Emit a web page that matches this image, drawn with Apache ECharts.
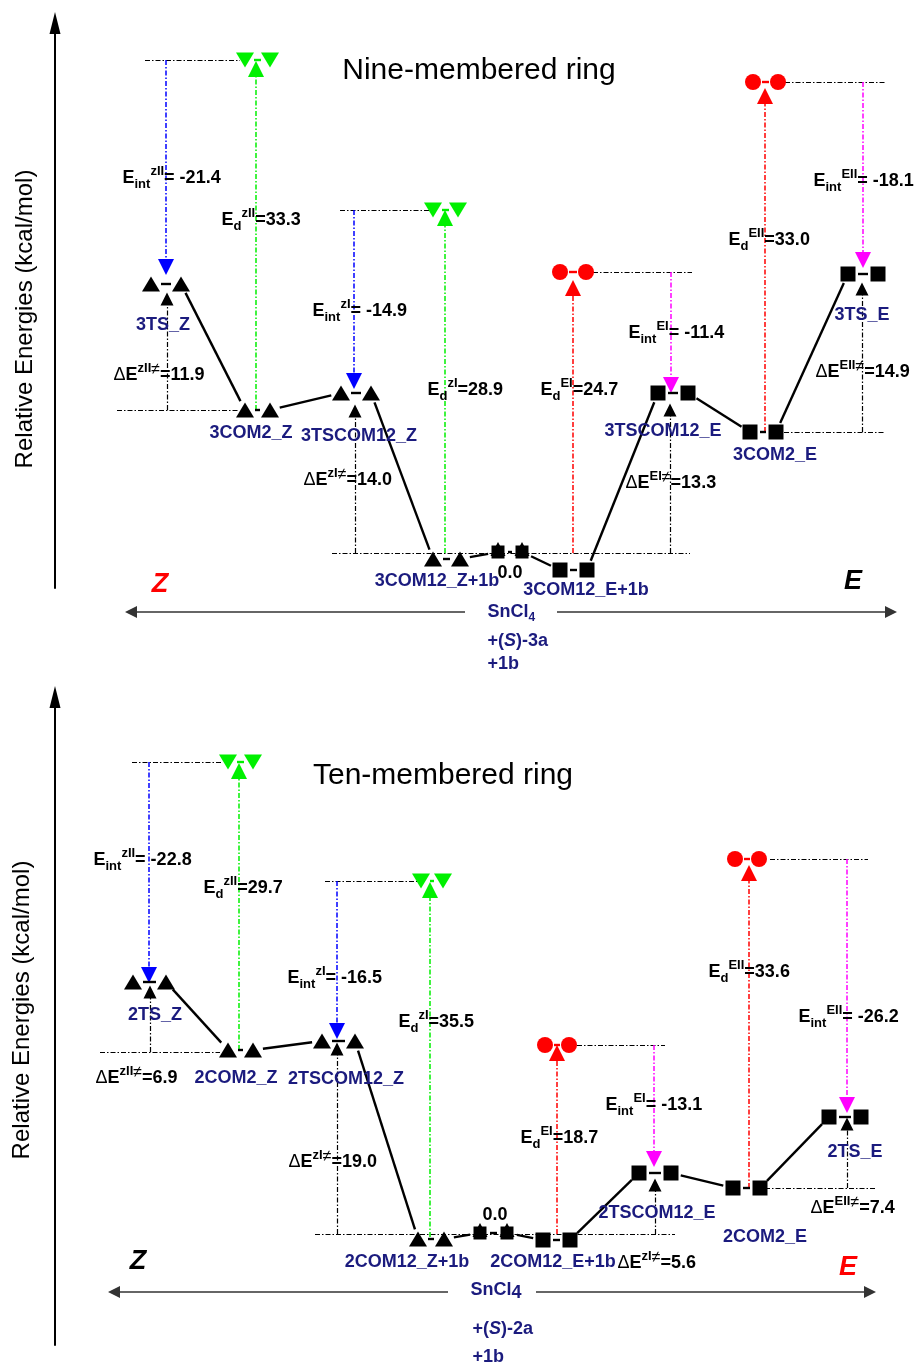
<!DOCTYPE html>
<html><head><meta charset="utf-8">
<script src="https://cdn.jsdelivr.net/npm/echarts@6/dist/echarts.min.js"></script>
<style>html,body{margin:0;padding:0;background:#fff}#c{width:920px;height:1366px}</style>
</head><body><div id="c"></div>
<script>
// ================= DATA: Nine-membered ring (top panel) =================
// schematic diagram units: x = stage position, y = drawn level (0 = SnCl4 + (S)-3a + 1b)
const nineNames  = ['3TS_Z','3COM2_Z','3TSCOM12_Z','3COM12_Z+1b','0.0','3COM12_E+1b','3TSCOM12_E','3COM2_E','3TS_E'];
const nineStageL = [15.1, 24.5, 34.1, 43.3, 49.8, 56.0, 65.8, 75.0, 84.8];
const nineStageR = [18.1, 27.0, 37.1, 46.0, 52.2, 58.7, 68.8, 77.6, 87.8];
const nineLevel  = [26.9, 14.3, 16.0, -0.6, 0.1, -1.7, 16.0, 12.1, 27.9];
const nineShape  = ['tri','tri','tri','tri','both','sq','sq','sq','sq'];
// separated fragments (zII, zI, EI, EII)
const nineFragL     = [24.5, 43.3, 56.0, 75.3];
const nineFragR     = [27.0, 45.8, 58.6, 77.8];
const nineFragLevel = [49.3, 34.3, 28.1, 47.1];
const nineFragSide  = ['Z','Z','E','E'];
// energies (kcal/mol)
const nineEint  = [-21.4, -14.9, -11.4, -18.1];
const nineEd    = [33.3, 28.9, 24.7, 33.0];
const nineDelta = [11.9, 14.0, 13.3, 14.9];
const nineSup      = ['zII','zI','EI','EII'];
const nineDeltaSup = ['zII','zI','EI','EII'];
// vertical arrows [x, from, to]
const nineDeltaArrows = [[16.7,14.3,25.4],[35.5,0,14.2],[67.0,0,14.3],[86.2,12.1,26.4]];
const nineEintZ = [[16.6,49.3,28.6],[35.4,34.3,17.2]];
const nineEintE = [[67.1,28.1,16.8],[86.3,47.1,29.3]];
const nineEdZ   = [[25.6,14.3,48.4],[44.5,0,33.5]];
const nineEdE   = [[57.3,0,26.5],[76.5,12.1,45.7]];
// horizontal guide lines [x1, x2, y]
const nineGuides = [[14.5,24.0,49.3],[11.7,23.8,14.3],[34.0,43.0,34.3],[33.2,69.0,0],[59.3,69.2,28.1],[78.5,88.6,47.1],[78.4,88.4,12.1]];
// text layout
const nineNamePos  = [[16.3,22.8],[25.1,12.0],[35.9,11.7],[43.7,-2.8],[51.0,-2.0],[58.6,-3.7],[66.3,12.2],[77.5,9.8],[86.2,23.8]];
const nineEintPos  = [[12.2,37.5],[31.2,24.2],[62.8,22.0],[81.3,37.2]];
const nineEdPos    = [[22.1,33.3],[42.7,16.3],[54.0,16.3],[72.8,31.3]];
const nineDeltaPos = [[11.3,17.8],[30.3,7.3],[62.5,7.0],[81.5,18.1]];
const nineTitle = 'Nine-membered ring';
const nineTitlePos = [47.9, 48.2];
const nineReactants = ['{n|SnCl}{nsub|4}', '{n|+(}{ni|S}{n|)-3a}', '{n|+1b}'];
const nineReactPos = [[48.7,-5.9],[48.7,-8.8],[48.7,-11.1]];
const nineSideZ = {pos:[16.0,-3.2], style:'zr'};
const nineSideE = {pos:[85.3,-2.9], style:'zk'};
const nineBaseY = -5.9, nineBaseLeft = [46.5, 13.1], nineBaseRight = [55.7, 89.1];
const nineYLabelPos = [2.5, 23.4];

// ================= DATA: Ten-membered ring (bottom panel) =================
const tenNames  = ['2TS_Z','2COM2_Z','2TSCOM12_Z','2COM12_Z+1b','0.0','2COM12_E+1b','2TSCOM12_E','2COM2_E','2TS_E'];
const tenStageL = [13.3, 22.8, 32.2, 41.8, 48.0, 54.3, 63.9, 73.3, 82.9];
const tenStageR = [16.6, 25.3, 35.5, 44.4, 50.7, 57.0, 67.1, 76.0, 86.1];
const tenLevel  = [25.2, 18.4, 19.3, -0.5, 0.1, -0.6, 6.1, 4.6, 11.7];
const tenShape  = ['tri','tri','tri','tri','both','sq','sq','sq','sq'];
const tenFragL     = [22.8, 42.1, 54.5, 73.5];
const tenFragR     = [25.3, 44.3, 56.9, 75.9];
const tenFragLevel = [47.2, 35.3, 18.9, 37.5];
const tenFragSide  = ['Z','Z','E','E'];
const tenEint  = [-22.8, -16.5, -13.1, -26.2];
const tenEd    = [29.7, 35.5, 18.7, 33.6];
const tenDelta = [6.9, 19.0, 5.6, 7.4];
const tenSup      = ['zII','zI','EI','EII'];
const tenDeltaSup = ['zII','zI','zI','EII'];
const tenDeltaArrows = [[15.0,18.2,24.2],[33.7,0,18.5],[65.5,0,4.9],[84.7,4.6,11.0]];
const tenEintZ = [[14.9,47.2,25.9],[33.7,35.3,20.3]];
const tenEintE = [[65.4,18.9,7.5],[84.7,37.5,12.9]];
const tenEdZ   = [[23.9,18.4,46.3],[43.0,-0.3,34.4]];
const tenEdE   = [[55.7,0,18.1],[74.9,4.6,36.1]];
const tenGuides = [[13.2,22.3,47.2],[10.0,22.0,18.2],[32.5,41.7,35.3],[31.5,67.5,0],[57.7,66.5,18.9],[77.0,86.8,37.5],[76.5,87.7,4.6]];
const tenNamePos  = [[15.5,21.9],[23.6,15.6],[34.6,15.5],[40.7,-2.8],[49.5,1.9],[55.3,-2.8],[65.7,2.1],[76.5,-0.3],[85.5,8.2]];
const tenEintPos  = [[9.3,37.4],[28.7,25.6],[60.5,12.9],[79.8,21.7]];
const tenEdPos    = [[20.3,34.6],[39.8,21.2],[52.0,9.6],[70.8,26.2]];
const tenDeltaPos = [[9.5,15.6],[28.8,7.2],[61.7,-2.9],[81.0,2.6]];
const tenTitle = 'Ten-membered ring';
const tenTitlePos = [44.3, 45.8];
const tenReactants = ['{n|SnCl}{nsub4|4}', '{n|+(}{ni|S}{n|)-2a}', '{n|+1b}'];
const tenReactPos = [[47.0,-5.6],[47.2,-9.5],[47.2,-12.3]];
const tenSideZ = {pos:[13.8,-2.8], style:'zk'};
const tenSideE = {pos:[84.8,-3.4], style:'zr'};
const tenBaseY = -5.8, tenBaseLeft = [44.8, 11.4], tenBaseRight = [53.6, 87.0];
const tenYLabelPos = [2.2, 22.4];

// ================= STYLE =================
const FONT = "'Liberation Sans', Arial, Helvetica, sans-serif";
const NAVY = '#1b1b7e';
const DASHDOT = [5, 2, 1.5, 2];
const COLORS = {Zint:'#0000ff', Eint:'#ff00ff', Zd:'#00f000', Ed:'#ff0000'};
const RICH = {
  b:   {fontFamily: FONT, fontSize: 18, fontWeight: 'bold', color: '#000', lineHeight: 26, verticalAlign: 'middle'},
  d:   {fontFamily: FONT, fontSize: 18, color: '#000', lineHeight: 26, verticalAlign: 'middle'},
  sub: {fontFamily: FONT, fontSize: 13, fontWeight: 'bold', color: '#000', lineHeight: 12, verticalAlign: 'bottom'},
  sup: {fontFamily: FONT, fontSize: 13, fontWeight: 'bold', color: '#000', lineHeight: 12, verticalAlign: 'top'},
  ne:  {fontFamily: FONT, fontSize: 16, color: '#000', lineHeight: 14, verticalAlign: 'top'},
  n:   {fontFamily: FONT, fontSize: 18, fontWeight: 'bold', color: NAVY, lineHeight: 24, verticalAlign: 'middle'},
  ni:  {fontFamily: FONT, fontSize: 18, fontWeight: 'bold', fontStyle: 'italic', color: NAVY, lineHeight: 24, verticalAlign: 'middle'},
  nsub:{fontFamily: FONT, fontSize: 12, fontWeight: 'bold', color: NAVY, lineHeight: 12, verticalAlign: 'bottom'},
  nsub4:{fontFamily: FONT, fontSize: 18, fontWeight: 'bold', color: NAVY, lineHeight: 17, verticalAlign: 'bottom'},
  zero:{fontFamily: FONT, fontSize: 18, fontWeight: 'bold', color: '#000', lineHeight: 24},
  zr:  {fontFamily: FONT, fontSize: 27, fontWeight: 'bold', fontStyle: 'italic', color: '#ff0000', lineHeight: 30},
  zk:  {fontFamily: FONT, fontSize: 27, fontWeight: 'bold', fontStyle: 'italic', color: '#000', lineHeight: 30},
  t:   {fontFamily: FONT, fontSize: 30, color: '#000', lineHeight: 34},
  y:   {fontFamily: FONT, fontSize: 24, color: '#000', lineHeight: 28}
};

const panels = [
  {names:nineNames, L:nineStageL, R:nineStageR, Y:nineLevel, shape:nineShape,
   fL:nineFragL, fR:nineFragR, fY:nineFragLevel, fSide:nineFragSide,
   eint:nineEint, ed:nineEd, delta:nineDelta, sup:nineSup, dSup:nineDeltaSup,
   dArr:nineDeltaArrows, eintZ:nineEintZ, eintE:nineEintE, edZ:nineEdZ, edE:nineEdE, guides:nineGuides,
   namePos:nineNamePos, eintPos:nineEintPos, edPos:nineEdPos, deltaPos:nineDeltaPos,
   title:nineTitle, titlePos:nineTitlePos, react:nineReactants, reactPos:nineReactPos,
   sideZ:nineSideZ, sideE:nineSideE, baseY:nineBaseY, baseL:nineBaseLeft, baseR:nineBaseRight, yLab:nineYLabelPos},
  {names:tenNames, L:tenStageL, R:tenStageR, Y:tenLevel, shape:tenShape,
   fL:tenFragL, fR:tenFragR, fY:tenFragLevel, fSide:tenFragSide,
   eint:tenEint, ed:tenEd, delta:tenDelta, sup:tenSup, dSup:tenDeltaSup,
   dArr:tenDeltaArrows, eintZ:tenEintZ, eintE:tenEintE, edZ:tenEdZ, edE:tenEdE, guides:tenGuides,
   namePos:tenNamePos, eintPos:tenEintPos, edPos:tenEdPos, deltaPos:tenDeltaPos,
   title:tenTitle, titlePos:tenTitlePos, react:tenReactants, reactPos:tenReactPos,
   sideZ:tenSideZ, sideE:tenSideE, baseY:tenBaseY, baseL:tenBaseLeft, baseR:tenBaseRight, yLab:tenYLabelPos}
];

// ================= BUILD =================
function vItems(arr){ return arr.map(a => ({coords: [[a[0], a[1]], [a[0], a[2]]]})); }
function hItems(arr){ return arr.map(a => ({coords: [[a[0], a[2]], [a[1], a[2]]]})); }
function linesSeries(gi, data, color, arrowSize, dash, width){
  return {type:'lines', coordinateSystem:'cartesian2d', xAxisIndex:gi, yAxisIndex:gi, clip:false, silent:true, z:2,
    symbol: arrowSize ? ['none','triangle'] : ['none','none'], symbolSize: [0, arrowSize || 0],
    lineStyle:{color, width: width || 1.3, type: dash, opacity:1, curveness:0}, data};
}
function gapRender(gap, width){
  return function(params, api){
    const a = api.coord([api.value(0), api.value(1)]);
    const b = api.coord([api.value(2), api.value(3)]);
    const dx = b[0]-a[0], dy = b[1]-a[1], len = Math.hypot(dx, dy);
    if (len <= 2*gap) return null;
    const ux = dx/len, uy = dy/len;
    return {type:'line', shape:{x1:a[0]+ux*gap, y1:a[1]+uy*gap, x2:b[0]-ux*gap, y2:b[1]-uy*gap},
      style:{stroke: api.visual('color'), lineWidth: width}};
  };
}
function fmt(v){ return v.toFixed(1); }

const series = [];
panels.forEach((p, gi) => {
  series.push(linesSeries(gi, hItems(p.guides), '#000', 0, DASHDOT, 1.2));
  series.push(linesSeries(gi, vItems(p.dArr), '#000', 13, DASHDOT, 1.2));
  series.push(linesSeries(gi, vItems(p.eintZ), COLORS.Zint, 16, DASHDOT, 1.5));
  series.push(linesSeries(gi, vItems(p.eintE), COLORS.Eint, 16, DASHDOT, 1.5));
  series.push(linesSeries(gi, vItems(p.edZ), COLORS.Zd, 16, DASHDOT, 1.5));
  series.push(linesSeries(gi, vItems(p.edE), COLORS.Ed, 16, DASHDOT, 1.5));
  series.push(linesSeries(gi, [{coords:[[p.baseL[0], p.baseY],[p.baseL[1], p.baseY]]},{coords:[[p.baseR[0], p.baseY],[p.baseR[1], p.baseY]]}], '#333', 12, 'solid', 1.5));

  const prof = [];
  for (let i = 0; i < p.L.length; i++) {
    prof.push([p.L[i], p.Y[i], p.R[i], p.Y[i]]);
    if (i < p.L.length - 1) prof.push([p.R[i], p.Y[i], p.L[i+1], p.Y[i+1]]);
  }
  series.push({type:'custom', coordinateSystem:'cartesian2d', xAxisIndex:gi, yAxisIndex:gi, silent:true, z:3,
    dimensions:['x1','y1','x2','y2'], encode:{x:[0,2], y:[1,3]},
    itemStyle:{color:'#000'}, renderItem: gapRender(10, 2.4), data: prof});
  const fr = p.fL.map((l, i) => ({value:[l, p.fY[i], p.fR[i], p.fY[i]], itemStyle:{color: p.fSide[i]==='Z' ? COLORS.Zd : COLORS.Ed}}));
  series.push({type:'custom', coordinateSystem:'cartesian2d', xAxisIndex:gi, yAxisIndex:gi, silent:true, z:3,
    dimensions:['x1','y1','x2','y2'], encode:{x:[0,2], y:[1,3]}, renderItem: gapRender(9, 2.4), data: fr});

  const mk = [];
  p.L.forEach((l, i) => {
    [l, p.R[i]].forEach(x => {
      const s = p.shape[i];
      if (s === 'tri') mk.push({value:[x, p.Y[i]], symbol:'triangle', symbolSize:[18,15], itemStyle:{color:'#000'}});
      else if (s === 'sq') mk.push({value:[x, p.Y[i]], symbol:'rect', symbolSize:15, itemStyle:{color:'#000'}});
      else {
        mk.push({value:[x, p.Y[i]], symbol:'rect', symbolSize:13, itemStyle:{color:'#000'}});
        mk.push({value:[x, p.Y[i]], symbol:'triangle', symbolSize:[15,14], symbolOffset:[0,-3], itemStyle:{color:'#000'}});
      }
    });
  });
  p.fL.forEach((l, i) => {
    [l, p.fR[i]].forEach(x => {
      if (p.fSide[i] === 'Z') mk.push({value:[x, p.fY[i]], symbol:'triangle', symbolRotate:180, symbolSize:[18,15], itemStyle:{color:COLORS.Zd}});
      else mk.push({value:[x, p.fY[i]], symbol:'circle', symbolSize:16, itemStyle:{color:COLORS.Ed}});
    });
  });
  series.push({type:'scatter', xAxisIndex:gi, yAxisIndex:gi, clip:false, silent:true, z:4,
    itemStyle:{opacity:1}, data: mk});

  const tx = [];
  const add = (pos, text, anchor, extra) => tx.push({value: pos, label: Object.assign({show:true, formatter: text, position: anchor === 'left' ? 'right' : 'inside', distance: 0}, extra || {})});
  p.names.forEach((n, i) => add(p.namePos[i], n === '0.0' ? '{zero|0.0}' : '{n|' + n + '}', 'center'));
  p.eint.forEach((v, i) => add(p.eintPos[i], '{b|E}{sub|int}{sup|' + p.sup[i] + '}{b|= ' + fmt(v) + '}', 'left'));
  p.ed.forEach((v, i) => add(p.edPos[i], '{b|E}{sub|d}{sup|' + p.sup[i] + '}{b|=' + fmt(v) + '}', 'left'));
  p.delta.forEach((v, i) => add(p.deltaPos[i], '{d|Δ}{b|E}{sup|' + p.dSup[i] + '}{ne|≠}{b|=' + fmt(v) + '}', 'left'));
  p.react.forEach((r, i) => add(p.reactPos[i], r, 'left'));
  add(p.sideZ.pos, '{' + p.sideZ.style + '|Z}', 'center');
  add(p.sideE.pos, '{' + p.sideE.style + '|E}', 'center');
  add(p.titlePos, '{t|' + p.title + '}', 'center');
  add(p.yLab, '{y|Relative Energies (kcal/mol)}', 'center', {rotate: 90});
  series.push({type:'scatter', xAxisIndex:gi, yAxisIndex:gi, clip:false, silent:true, z:5,
    symbol:'circle', symbolSize:1, itemStyle:{color:'rgba(255,255,255,0)', opacity:1},
    label:{show:true, color:'#000', rich: RICH}, labelLayout:{hideOverlap:false}, data: tx});
});

const yAxisBase = {type:'value', axisTick:{show:false}, axisLabel:{show:false}, splitLine:{show:false},
  axisLine:{show:true, onZero:false, symbol:['none','triangle'], symbolSize:[11,22], lineStyle:{color:'#000', width:2}}};
const option = {
  animation:false,
  backgroundColor:'#fff',
  textStyle:{fontFamily: FONT},
  grid:[{left:55, right:0, top:23, height:565}, {left:55, right:0, top:697, height:648}],
  xAxis:[{type:'value', gridIndex:0, min:5.5, max:92, show:false}, {type:'value', gridIndex:1, min:5.5, max:92, show:false}],
  yAxis:[Object.assign({gridIndex:0, min:-3.5, max:53.0}, yAxisBase), Object.assign({gridIndex:1, min:-11.1, max:53.7}, yAxisBase)],
  series
};
const chart = echarts.init(document.getElementById('c'));
chart.setOption(option);
</script></body></html>
